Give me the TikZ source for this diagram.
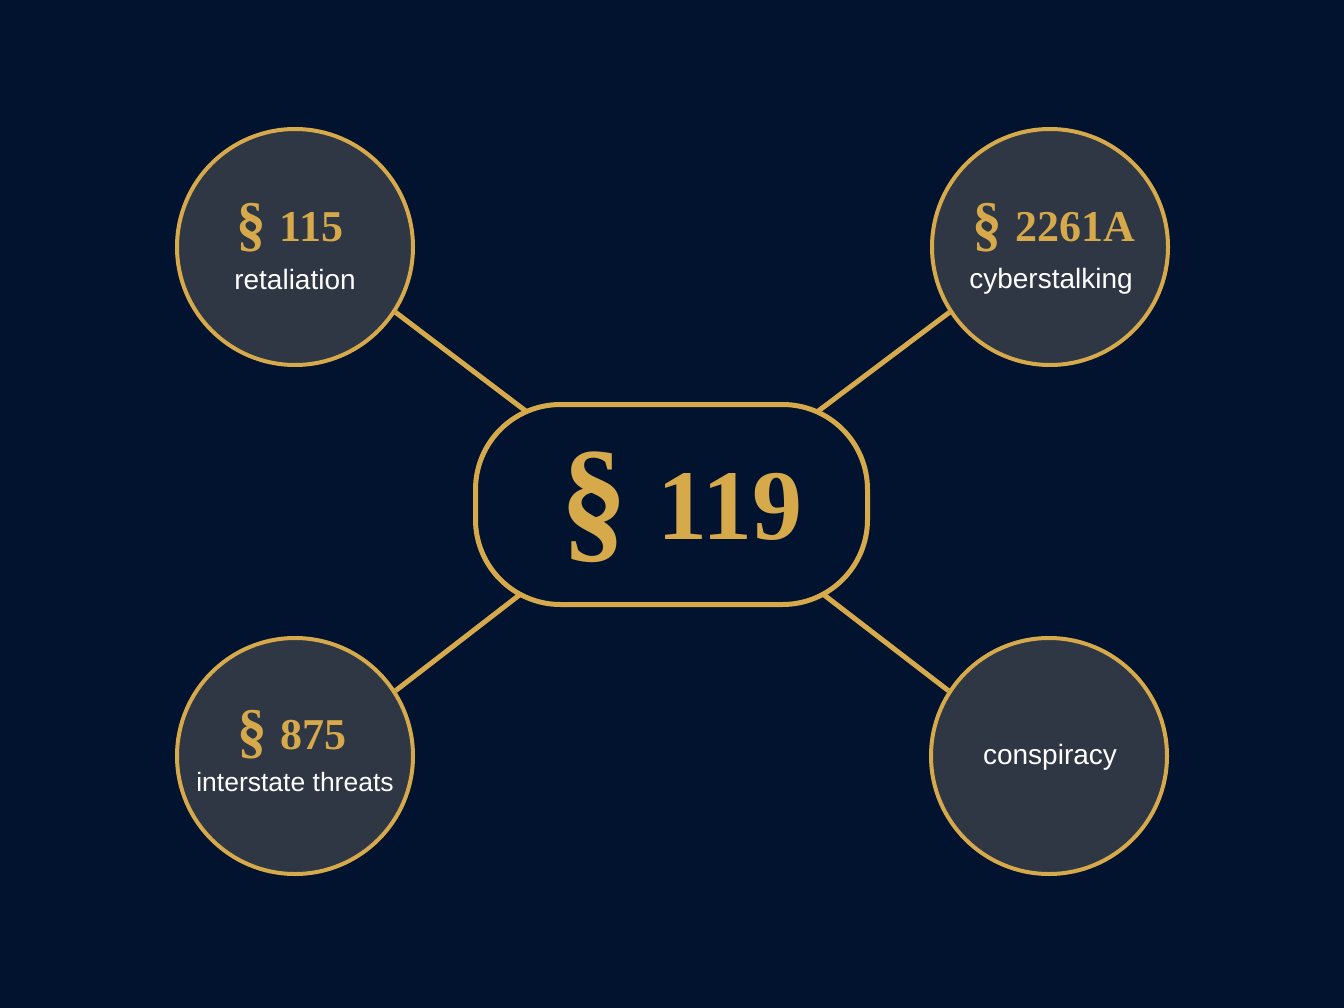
\documentclass[tikz,border=0pt]{standalone}
\usepackage{graphicx}
\usepackage{fontspec}
\setmainfont{Liberation Serif}
\setsansfont{Liberation Sans}
\usetikzlibrary{positioning, backgrounds}
\definecolor{lawnavy}{HTML}{021330}
\definecolor{lawslate}{HTML}{2F3644}
\definecolor{lawgold}{HTML}{D6A94B}
\newcommand{\goldcolor}{lawgold}
\newcommand{\secmark}{\raisebox{-0.06em}{\scalebox{1.35}[1.38]{§}}\hspace{0.3em}}

\begin{document}
\begin{tikzpicture}[x=1pt,y=-1pt,
	cir/.style={circle,draw=\goldcolor,fill=lawslate,line width=4pt,minimum size=236pt,inner sep=0},
	hubbox/.style={rectangle,rounded corners=85pt,draw=\goldcolor,fill=lawnavy,line width=5pt,minimum width=392pt,minimum height=200pt},
	link/.style={draw=\goldcolor,line width=5pt},
	sec/.style={anchor=base,text=\goldcolor,inner sep=0,font=\rmfamily\bfseries\fontsize{44}{50}\selectfont},
	topic/.style={anchor=base,text=white,inner sep=0,font=\sffamily\fontsize{28}{32}\selectfont}]
	%%
	\node[hubbox] (hub) at (671.5,504.5) {};
	\node[sec,font=\rmfamily\bfseries\fontsize{100}{110}\selectfont] (s119) at (681,539) {\secmark119};
	%%
	\node[cir] (c115) at (295,247) {};
	\node[cir] (c2261) at (1050,247) {};
	\node[cir] (c875) at (295,756) {};
	\node[cir] (cconsp) at (1049,756) {};
	%%
	\node[sec] (s115) at (290,242) {\secmark115};
	\node[topic] (t115) at (295,290) {retaliation};
	\node[sec] (s2261) at (1054,242) {\secmark2261A};
	\node[topic] (t2261) at (1051,289) {cyberstalking};
	\node[sec] (s875) at (292,749) {\secmark875};
	\node[topic,font=\sffamily\fontsize{26.5}{32}\selectfont] (t875) at (295,791) {interstate threats};
	\node[topic] (tconsp) at (1050,764) {conspiracy};
	%%
	\begin{scope}[on background layer]
		\fill[lawnavy] (0,0) rectangle (1344,1008);
		\foreach \c/\a/\s in {c115/-33/-17,c2261/-147/-17,c875/33/27,cconsp/147/27} {
			\draw[link] (\c.\a)--([yshift=\s pt]hub.center);
		}
	\end{scope}
\end{tikzpicture}
\end{document}
